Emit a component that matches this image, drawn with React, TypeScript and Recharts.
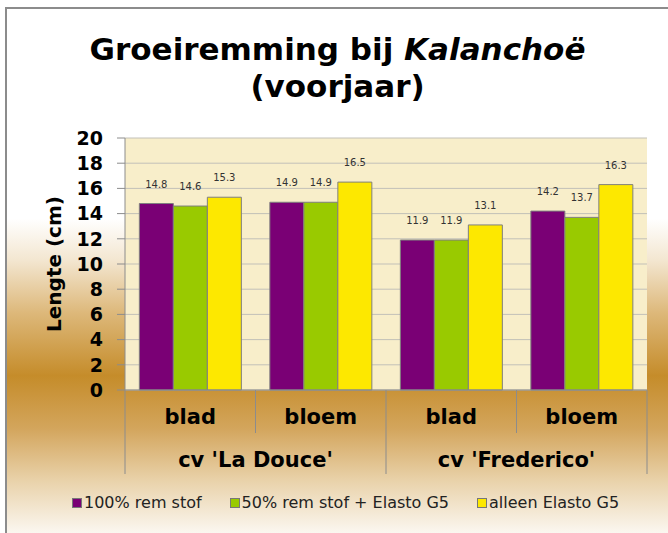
import React from 'react';
import { BarChart, Bar, XAxis, YAxis, CartesianGrid, Legend, LabelList } from 'recharts';

// categories (two levels) and series values
const cultivars = ["cv 'La Douce'", "cv 'La Douce'", "cv 'Frederico'", "cv 'Frederico'"];
const parts = ['blad', 'bloem', 'blad', 'bloem'];
const rem100 = [14.8, 14.9, 11.9, 14.2];
const rem50 = [14.6, 14.9, 11.9, 13.7];
const elastoOnly = [15.3, 16.5, 13.1, 16.3];
const seriesNames = ['100% rem stof', '50% rem stof + Elasto G5', 'alleen Elasto G5'];
const yTicks = [0, 2, 4, 6, 8, 10, 12, 14, 16, 18, 20];

const rows = parts.map((p, i) => ({
    part: p,
    cv: cultivars[i],
    a: rem100[i],
    b: rem50[i],
    c: elastoOnly[i],
}));

const FONT = '"DejaVu Sans", Verdana, sans-serif';
const GRAY = '#8c8c8c';
const W = 661;
const H = 524;
const M = { top: 129, right: 21, bottom: 59, left: 0 };
const BAND = (W - 118 - M.right) / rows.length;
const INNER = 43; // separator under first level
const OUTER = 84; // separator under both levels

const PartTick = (props: any) => {
    const { x, y, payload, index } = props;
    const half = payload && payload.offset ? payload.offset : BAND / 2;
    const row = rows[index];
    const startsGroup = index === 0 || rows[index - 1].cv !== row.cv;
    const isLast = index === rows.length - 1;
    return (
        <g>
            <line x1={x - half} x2={x - half} y1={y} y2={y + (startsGroup ? OUTER : INNER)} stroke={GRAY} />
            {isLast && <line x1={x + half} x2={x + half} y1={y} y2={y + OUTER} stroke={GRAY} />}
            <text x={x} y={y + 34} textAnchor="middle" fontFamily={FONT} fontWeight="bold" fontSize={21} fill="#000">
                {row.part}
            </text>
        </g>
    );
};

const CvTick = (props: any) => {
    const { x, y, payload } = props;
    return (
        <text x={x} y={y + 34} textAnchor="middle" fontFamily={FONT} fontWeight="bold" fontSize={21} fill="#000">
            {payload.value}
        </text>
    );
};

const LegendContent = (props: any) => {
    const items = props.payload || [];
    return (
        <div style={{ display: 'flex', gap: 28, fontFamily: FONT, fontSize: 16, color: '#222', lineHeight: '20px' }}>
            {items.map((it: any) => (
                <div key={it.value} style={{ display: 'flex', alignItems: 'center' }}>
                    <span style={{ width: 8, height: 8, background: it.color, border: '1px solid #777', marginRight: 2 }} />
                    <span>{it.value}</span>
                </div>
            ))}
        </div>
    );
};

const labelStyle = { fontSize: 10, fill: '#333', fontFamily: FONT };
const fmt = (v: any) => Number(v).toFixed(1);

export default function App() {
    return (
        <div
            style={{
                position: 'absolute',
                left: 5,
                top: 7,
                width: 663,
                height: 526,
                boxSizing: 'border-box',
                borderLeft: `2px solid ${GRAY}`,
                borderTop: `2px solid ${GRAY}`,
                background:
                    'linear-gradient(to bottom, #ffffff 0%, #ffffff 40%, #f3e6d0 48%, #ddb87a 58%, #c58c2a 70%, #d3a55c 80%, #e9d2aa 90%, #fbf7f0 100%)',
            }}
        >
            <div
                style={{
                    position: 'absolute',
                    left: 0,
                    top: 22,
                    width: W,
                    textAlign: 'center',
                    fontFamily: FONT,
                    fontWeight: 'bold',
                    fontSize: 31,
                    lineHeight: '37px',
                    color: '#000',
                }}
            >
                Groeiremming bij <i>Kalanchoë</i>
                <br />
                (voorjaar)
            </div>
            <BarChart width={W} height={H} data={rows} margin={M} barCategoryGap="11%" barGap={0}>
                <CartesianGrid vertical={false} fill="#f8eeca" stroke="#c2c0b8" />
                <XAxis
                    dataKey="part"
                    interval={0}
                    height={INNER}
                    tickSize={0}
                    tickMargin={0}
                    tickLine={false}
                    axisLine={{ stroke: GRAY }}
                    tick={<PartTick />}
                />
                <XAxis
                    xAxisId="cv"
                    dataKey="cv"
                    allowDuplicatedCategory={false}
                    interval={0}
                    height={OUTER - INNER}
                    tickSize={0}
                    tickMargin={0}
                    tickLine={false}
                    axisLine={false}
                    tick={<CvTick />}
                />
                <YAxis
                    width={118}
                    domain={[0, 20]}
                    ticks={yTicks}
                    interval={0}
                    tickSize={8}
                    tickMargin={14}
                    axisLine={{ stroke: GRAY }}
                    tickLine={{ stroke: GRAY }}
                    tick={{ fontFamily: FONT, fontWeight: 'bold', fontSize: 19, fill: '#000' }}
                    label={{
                        value: 'Lengte (cm)',
                        angle: -90,
                        position: 'insideLeft',
                        offset: 47,
                        style: { textAnchor: 'middle', fontFamily: FONT, fontWeight: 'bold', fontSize: 20, fill: '#000' },
                    }}
                />
                <YAxis
                    yAxisId="right"
                    orientation="right"
                    width={0}
                    tick={false}
                    tickLine={false}
                    axisLine={{ stroke: GRAY }}
                />
                <Legend
                    verticalAlign="middle"
                    align="center"
                    layout="horizontal"
                    wrapperStyle={{ top: 484, left: 65, width: 580 }}
                    content={<LegendContent />}
                />
                <Bar dataKey="a" name={seriesNames[0]} fill="#7a0075" stroke="#7f7f7f" isAnimationActive={false}>
                    <LabelList dataKey="a" position="top" offset={16} formatter={fmt} style={labelStyle} />
                </Bar>
                <Bar dataKey="b" name={seriesNames[1]} fill="#99ca00" stroke="#7f7f7f" isAnimationActive={false}>
                    <LabelList dataKey="b" position="top" offset={16} formatter={fmt} style={labelStyle} />
                </Bar>
                <Bar dataKey="c" name={seriesNames[2]} fill="#fde800" stroke="#7f7f7f" isAnimationActive={false}>
                    <LabelList dataKey="c" position="top" offset={16} formatter={fmt} style={labelStyle} />
                </Bar>
            </BarChart>
        </div>
    );
}
